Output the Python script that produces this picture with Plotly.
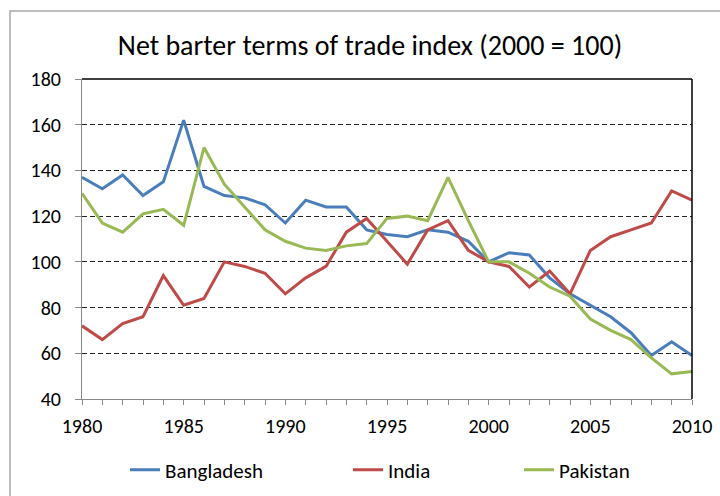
import plotly.graph_objects as go

# ------------------------------------------------------------
# DATA
# ------------------------------------------------------------

years = list(range(1980, 2011))

bangladesh = [137, 132, 138, 129, 135, 162, 133, 129, 128, 125,
              117, 127, 124, 124, 114, 112, 111, 114, 113, 109,
              100, 104, 103, 93, 86, 81, 76, 69, 59, 65, 59]

india = [72, 66, 73, 76, 94, 81, 84, 100, 98, 95,
         86, 93, 98, 113, 119, 109, 99, 114, 118, 105,
         100, 98, 89, 96, 86, 105, 111, 114, 117, 131, 127]

pakistan = [130, 117, 113, 121, 123, 116, 150, 134, 124, 114,
            109, 106, 105, 107, 108, 119, 120, 118, 137, 118,
            100, 100, 95, 89, 85, 75, 70, 66, 58, 51, 52]

series = [
    ("Bangladesh", bangladesh, "#4A7EBB"),
    ("India", india, "#BE4B48"),
    ("Pakistan", pakistan, "#98B954"),
]

FONT = "Carlito, Calibri, Lato, sans-serif"

# plot area in pixels (left, right, top, bottom)
PL, PR, PT, PB = 82, 692, 79, 399


def px_x(p):
    return (p - PL) / (PR - PL)


def px_y(p):
    return (PB - p) / (PB - PT)


fig = go.Figure()

legend_ids = ["legend", "legend2", "legend3"]

for (name, vals, color), lg in zip(series, legend_ids):
    fig.add_trace(go.Scatter(
        x=years,
        y=vals,
        mode="lines",
        name=name,
        legend=lg,
        line=dict(color=color, width=3)
    ))

# ------------------------------------------------------------
# AXES
# ------------------------------------------------------------

fig.update_xaxes(
    range=[1980, 2010],
    dtick=5,
    ticks="outside",
    ticklen=5,
    tickcolor="#888888",
    minor=dict(dtick=1, ticks="outside", ticklen=5, tickcolor="#888888"),
    showline=True,
    linecolor="#888888",
    linewidth=1,
    showgrid=False,
    ticklabelstandoff=4,
    tickfont=dict(family=FONT, size=20, color="black"),
)

fig.update_yaxes(
    range=[40, 180],
    dtick=20,
    ticks="outside",
    ticklen=6,
    tickcolor="#888888",
    showline=True,
    linecolor="#888888",
    linewidth=1,
    showgrid=True,
    gridcolor="#222222",
    griddash="5px,3px",
    gridwidth=1,
    zeroline=False,
    ticklabelstandoff=10,
    tickfont=dict(family=FONT, size=20, color="black"),
)

# plot area border on top and right
fig.add_shape(type="line", xref="paper", yref="paper", x0=0, x1=1, y0=1, y1=1,
              line=dict(color="black", width=1.5))
fig.add_shape(type="line", xref="paper", yref="paper", x0=1, x1=1, y0=0, y1=1,
              line=dict(color="black", width=1.5))

# outer chart frame
fig.add_shape(type="rect", xref="paper", yref="paper",
              x0=px_x(10), x1=px_x(760), y0=px_y(560), y1=px_y(11),
              line=dict(color="#A8A8A8", width=1.5))

# ------------------------------------------------------------
# LAYOUT
# ------------------------------------------------------------

leg_common = dict(
    orientation="h",
    xanchor="left",
    yanchor="middle",
    y=px_y(470),
    bgcolor="rgba(0,0,0,0)",
    font=dict(family=FONT, size=21, color="black"),
    itemwidth=30,
)

fig.update_layout(
    width=720,
    height=496,
    margin=dict(l=PL, r=720 - PR, t=PT, b=496 - PB, autoexpand=False),
    plot_bgcolor="white",
    paper_bgcolor="white",
    showlegend=True,
    title=dict(
        text="Net barter terms of trade index (2000 = 100)",
        x=370 / 720,
        xanchor="center",
        y=1 - 45 / 496,
        yanchor="middle",
        font=dict(family=FONT, size=28, color="black"),
    ),
    legend=dict(x=px_x(125), **leg_common),
    legend2=dict(x=px_x(348), **leg_common),
    legend3=dict(x=px_x(519), **leg_common),
)

fig.write_html(
    "out.html",
    config={"displayModeBar": False},
    post_script="document.body.style.margin='0';document.body.style.overflow='hidden';",
)
